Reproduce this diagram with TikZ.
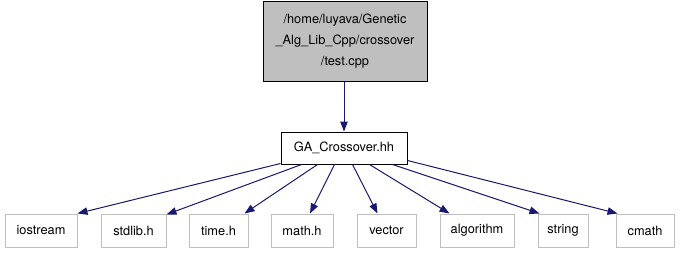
\documentclass[tikz,border=0pt]{standalone}
\usepackage{fontspec}
\setmainfont{TeX Gyre Heros}
\usetikzlibrary{arrows.meta,calc}
\definecolor{edgeblue}{HTML}{191970}
\definecolor{leafgray}{HTML}{BFBFBF}
\begin{document}
\begin{tikzpicture}[x=0.75pt,y=-0.75pt,
  every node/.style={font=\fontsize{9.6}{15.75}\selectfont, inner sep=0pt, align=center},
  filebox/.style={draw=black, line width=0.75pt, fill=white},
  rootbox/.style={draw=black, line width=0.75pt, fill=leafgray},
  leafbox/.style={draw=leafgray, line width=0.75pt, fill=white, minimum height=24.75pt},
  dep/.style={draw=edgeblue, line width=0.75pt, -{Triangle[length=7.5pt,width=5.6pt]}}]
  \useasboundingbox (0,0) rectangle (680,253);
  % source file and its header
  \node[rootbox, minimum width=123pt, minimum height=59.25pt] (test) at (345,41.5)
    {/home/luyava/Genetic\\\_Alg\_Lib\_Cpp/crossover\\/test.cpp};
  \node[filebox, minimum width=94.5pt, minimum height=24pt] (hdr) at (344,148) {GA\_Crossover.hh};
  % included system headers
  \node[leafbox, minimum width=54pt]   (iostream)  at (41,230.5)    {iostream};
  \node[leafbox, minimum width=48.75pt] (stdlib)   at (133.5,230.5) {stdlib.h};
  \node[leafbox, minimum width=44.25pt] (time)     at (218.5,230.5) {time.h};
  \node[leafbox, minimum width=46.5pt] (math)      at (302,230.5)   {math.h};
  \node[leafbox, minimum width=44.25pt] (vector)   at (386.5,230.5) {vector};
  \node[leafbox, minimum width=55.5pt] (algorithm) at (477,230.5)   {algorithm};
  \node[leafbox, minimum width=37.5pt] (string)    at (563,230.5)   {string};
  \node[leafbox, minimum width=43.5pt] (cmath)     at (645,230.5)   {cmath};
  % include edges
  \draw[dep] (test.south -| hdr.north) -- (hdr.north);
  \draw[dep] ($(hdr.south west)+(0,-1)$) -- (iostream.north east);
  \draw[dep] ($(hdr.south west)+(21,0)$) -- ($(stdlib.north east)+(0,1)$);
  \draw[dep] ($(hdr.south west)+(37,0)$) -- ($(time.north east)+(-4,0)$);
  \draw[dep] ($(hdr.south west)+(54,0)$) -- ($(math.north)+(8,0)$);
  \draw[dep] ($(hdr.south west)+(72,0)$) -- ($(vector.north)+(-9,0)$);
  \draw[dep] ($(hdr.south west)+(89,0)$) -- ($(algorithm.north west)+(10,0)$);
  \draw[dep] ($(hdr.south west)+(112,0)$) -- ($(string.north west)+(2,0)$);
  \draw[dep] ($(hdr.south east)+(0,-4)$) -- ($(cmath.north west)+(2,0)$);
\end{tikzpicture}
\end{document}
